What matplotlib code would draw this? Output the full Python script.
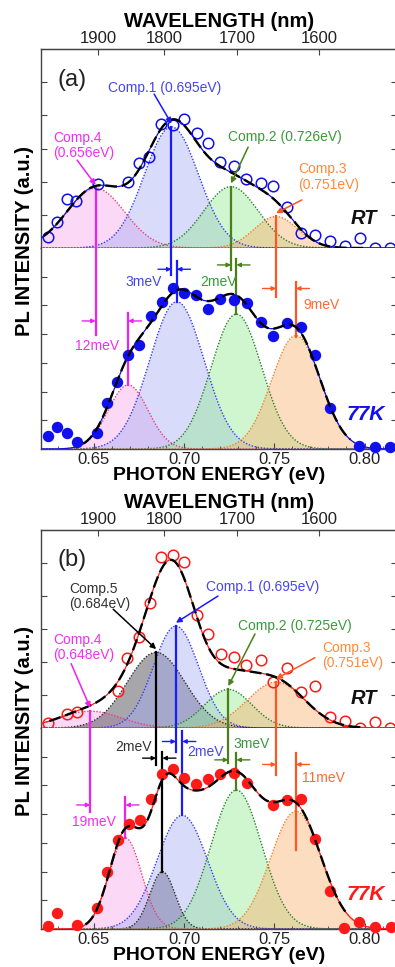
import numpy as np
import matplotlib.pyplot as plt
from matplotlib.ticker import MultipleLocator

plt.rcParams['font.family'] = ['Liberation Sans', 'DejaVu Sans']

# ---------------- panel (a): measured PL points ----------------
a_rt_e = [0.6244, 0.6298, 0.6350, 0.6401, 0.6521, 0.6688, 0.6752, 0.6808, 0.6872,
          0.6941, 0.7002, 0.7070, 0.7135, 0.7199, 0.7279, 0.7343, 0.7424, 0.7495,
          0.7572, 0.7646, 0.7726, 0.7809, 0.7892, 0.7975, 0.8058, 0.8141]
a_rt_i = [0.32, 0.79, 1.48, 1.41, 1.94, 2.00, 2.55, 2.75, 3.75,
          3.72, 3.88, 3.47, 3.17, 2.59, 2.47, 2.07, 1.97, 1.87,
          1.25, 0.44, 0.38, 0.22, 0.06, 0.31, 0.00, 0.00]
a_77_e = [0.6244, 0.6298, 0.6350, 0.6405, 0.6516, 0.6575, 0.6627, 0.6688, 0.6752,
          0.6815, 0.6876, 0.6937, 0.7002, 0.7066, 0.7135, 0.7199, 0.7279, 0.7347,
          0.7426, 0.7495, 0.7569, 0.7648, 0.7726, 0.7809, 0.7969, 0.8056, 0.8141]
a_77_i = [0.45, 0.75, 0.55, 0.26, 0.57, 1.61, 2.35, 3.28, 3.62,
          4.63, 5.13, 5.60, 5.45, 5.37, 4.87, 5.21, 5.19, 5.08,
          4.44, 3.94, 4.40, 4.24, 3.28, 1.42, 0.12, 0.08, 0.08]

# ---------------- panel (b): measured PL points ----------------
b_rt_e = [0.6244, 0.6350, 0.6409, 0.6631, 0.6683, 0.6752, 0.6811, 0.6872, 0.6937,
          0.7002, 0.7070, 0.7135, 0.7203, 0.7279, 0.7343, 0.7424, 0.7495, 0.7572,
          0.7648, 0.7726, 0.7809, 0.7892, 0.7975, 0.8058, 0.8141]
b_rt_i = [0.14, 0.42, 0.49, 1.11, 2.11, 2.77, 3.79, 5.17, 5.24,
          5.02, 3.42, 2.84, 2.24, 2.16, 1.92, 2.06, 1.39, 1.81,
          1.09, 1.27, 0.34, 0.21, 0.00, 0.19, 0.00]
b_77_e = [0.6244, 0.6298, 0.6405, 0.6516, 0.6575, 0.6631, 0.6697, 0.6756, 0.6817,
          0.6876, 0.6937, 0.7002, 0.7066, 0.7135, 0.7199, 0.7279, 0.7347, 0.7495,
          0.7572, 0.7648, 0.7726, 0.7809, 0.7884, 0.7969, 0.8056, 0.8145]
b_77_i = [0.12, 0.55, 0.14, 0.72, 1.97, 3.09, 3.67, 3.81, 4.53,
          5.41, 5.58, 5.27, 5.06, 5.21, 5.41, 5.44, 5.07, 4.31,
          4.49, 4.53, 3.15, 1.33, 0.02, 0.26, 0.08, 0.08]

# ---------------- gaussian components (peak eV, height, sigma eV) ----------------
a_comp = ['c4', 'c1', 'c2', 'c3']
a_rt_center = [0.651, 0.693, 0.726, 0.751]
a_rt_height = [1.80, 3.65, 1.85, 0.95]
a_rt_sigma = [0.016, 0.015, 0.015, 0.012]
a_77_center = [0.669, 0.696, 0.729, 0.762]
a_77_height = [2.23, 5.13, 4.70, 3.95]
a_77_sigma = [0.011, 0.015, 0.014, 0.0135]

b_comp = ['c4', 'c5', 'c1', 'c2', 'c3']
b_rt_center = [0.648, 0.6845, 0.6955, 0.7245, 0.751]
b_rt_height = [0.51, 2.29, 3.09, 1.17, 1.39]
b_rt_sigma = [0.017, 0.016, 0.0125, 0.013, 0.016]
b_77_center = [0.6675, 0.688, 0.699, 0.729, 0.762]
b_77_height = [3.17, 2.00, 3.96, 4.84, 4.10]
b_77_sigma = [0.009, 0.007, 0.014, 0.014, 0.014]

# peak-shift markers (in 77K axis units)
a_rt_line_end = [3.97, 6.06, 6.24, 5.28]
a_77_line_bot = [2.23, 5.13, 4.70, 3.91]
a_77_line_top = [4.75, 6.56, 6.61, 5.80]
a_arrow_y = [4.46, 6.26, 6.41, 5.59]
a_shift_txt = ['12meV', '3meV', '2meV', '9meV']
a_shift_x = [0.6518, 0.6773, 0.7189, 0.7764]
a_shift_y = [3.59, 5.82, 5.82, 5.02]

b_rt_line_end = [4.09, 5.71, 6.18, 5.77, 5.37]
b_77_line_bot = [3.17, 2.00, 3.96, 4.84, 2.75]
b_77_line_top = [4.61, 6.16, 6.88, 6.12, 6.12]
b_arrow_y = [4.32, 5.95, 6.53, 5.89, 5.73]
b_shift_txt = ['19meV', '2meV', '2meV', '3meV', '11meV']
b_shift_x = [0.6502, 0.6718, 0.7117, 0.7372, 0.7770]
b_shift_y = [3.73, 6.34, 6.17, 6.45, 5.26]

# component labels (text, text pos, ha, arrow tail)
a_lab_txt = ['Comp.4\n(0.656eV)', 'Comp.1 (0.695eV)', 'Comp.2 (0.726eV)', 'Comp.3\n(0.751eV)']
a_lab_x = [0.6274, 0.6890, 0.7560, 0.7630]
a_lab_y = [3.10, 4.82, 3.34, 2.14]
a_lab_ha = ['left', 'center', 'center', 'left']
a_tail_x = [0.6407, 0.6834, 0.7355, 0.7653]
a_tail_y = [2.65, 4.64, 3.04, 1.45]

b_lab_txt = ['Comp.4\n(0.648eV)', 'Comp.5\n(0.684eV)', 'Comp.1 (0.695eV)',
             'Comp.2 (0.725eV)', 'Comp.3\n(0.751eV)']
b_lab_x = [0.6274, 0.6534, 0.7438, 0.7616, 0.7764]
b_lab_y = [2.45, 3.99, 4.26, 3.09, 2.21]
b_lab_ha = ['left', 'center', 'center', 'center', 'left']
b_tail_x = [0.6374, 0.6607, 0.7188, 0.7393, 0.7725]
b_tail_y = [1.95, 3.60, 4.00, 2.85, 2.13]

# colours per component: fill, dotted edge, marker line, text
colors = {
    'c1': ('#a3abf5', '#3a3aee', '#1a1aff', '#4646f2'),
    'c2': ('#8fea8f', '#2e7d32', '#4a7f1a', '#3a9a3a'),
    'c3': ('#fbae68', '#f08030', '#ff5522', '#ff8a3c'),
    'c4': ('#f5a3ea', '#e8407a', '#ee22ee', '#f030f0'),
    'c5': ('#505058', '#303030', '#000000', '#333333'),
}

grid = np.linspace(0.60, 0.83, 600)


def gauss(c, h, s):
    return h * np.exp(-0.5 * ((grid - c) / s) ** 2)


def e2nm(x):
    x = np.asarray(x, dtype=float)
    with np.errstate(divide='ignore'):
        return 1239.84 / x


W, H = 395.0, 967.0
fig = plt.figure(figsize=(W / 100, H / 100), dpi=100)


def px_axes(left, top, right, bottom):
    return fig.add_axes([left / W, 1 - bottom / H, (right - left) / W, (bottom - top) / H])


XLIM = (0.6207, 0.818)


def style_axes(ax, ymax):
    ax.set_xlim(*XLIM)
    ax.set_ylim(0, ymax)
    ax.set_yticks(range(1, ymax))
    ax.tick_params(axis='y', left=True, right=True, direction='in', length=4,
                   width=0.8, labelleft=False, color='#444444')
    for s in ax.spines.values():
        s.set_color('#444444')
        s.set_linewidth(1.0)


def draw_spectrum(ax, comps, centers, heights, sigmas, e, i, mcolor, filled, fit_lo, fit_hi):
    total = np.zeros_like(grid)
    for k, c, h, s in zip(comps, centers, heights, sigmas):
        g = gauss(c, h, s)
        total += g
        fc, ec, lc, tc = colors[k]
        a = 0.5 if k == 'c5' else 0.42
        ax.fill_between(grid, 0, g, color=fc, alpha=a, lw=0, zorder=1)
        ax.plot(grid, g, ls=(0, (1, 1.2)), color=ec, lw=1.0, zorder=2)
    if filled:
        ax.plot(e, i, 'o', ms=7.2, color=mcolor, mec=mcolor, zorder=4, clip_on=False)
    else:
        ax.plot(e, i, 'o', ms=7.6, mfc='none', mec=mcolor, mew=1.1, zorder=4, clip_on=False)
    ax.plot(grid, total, color=mcolor, lw=0.9, zorder=5)
    m = (grid >= fit_lo) & (grid <= fit_hi)
    ax.plot(grid[m], total[m], color='black', lw=1.7, ls=(0, (5, 2)), zorder=6)


def draw_panel(ax_rt, ax_lt, tag, mcolor, comps,
               rt_c, rt_h, rt_s, lt_c, lt_h, lt_s,
               rt_e, rt_i, lt_e, lt_i,
               rt_end, lt_bot, lt_top, arr_y, sh_txt, sh_x, sh_y,
               lab_txt, lab_x, lab_y, lab_ha, tail_x, tail_y, fit_ranges):
    style_axes(ax_rt, 6)
    style_axes(ax_lt, 7)
    ax_rt.spines['bottom'].set_color('black')
    ax_lt.spines['top'].set_visible(False)
    ax_rt.tick_params(axis='x', bottom=False, labelbottom=False)

    draw_spectrum(ax_rt, comps, rt_c, rt_h, rt_s, rt_e, rt_i, mcolor, False, *fit_ranges[0])
    draw_spectrum(ax_lt, comps, lt_c, lt_h, lt_s, lt_e, lt_i, mcolor, True, *fit_ranges[1])

    for n, k in enumerate(comps):
        fc, ec, lc, tc = colors[k]
        # RT peak marker, continued down into the 77K frame
        ax_rt.plot([rt_c[n], rt_c[n]], [0, rt_h[n]], color=lc, lw=1.6, zorder=3)
        ax_lt.plot([rt_c[n], rt_c[n]], [rt_end[n], 7], color=lc, lw=1.6, zorder=3)
        ax_lt.plot([lt_c[n], lt_c[n]], [lt_bot[n], lt_top[n]], color=lc, lw=1.6, zorder=3)
        ap = dict(arrowstyle='-|>', color=lc, lw=1.0, mutation_scale=6, shrinkA=0, shrinkB=0)
        ax_lt.annotate('', xy=(rt_c[n], arr_y[n]), xytext=(rt_c[n] - 0.0075, arr_y[n]),
                       arrowprops=ap, zorder=7)
        ax_lt.annotate('', xy=(lt_c[n], arr_y[n]), xytext=(lt_c[n] + 0.0075, arr_y[n]),
                       arrowprops=ap, zorder=7)
        shc = '#ff6a30' if k == 'c3' else tc
        ax_lt.text(sh_x[n], sh_y[n], sh_txt[n], color=shc, fontsize=10,
                   ha='center', va='center', zorder=8)
        # component label with arrow to the RT peak
        ax_rt.text(lab_x[n], lab_y[n], lab_txt[n], color=tc, fontsize=10, ha=lab_ha[n],
                   va='center', linespacing=1.1, multialignment='left', zorder=8)
        ax_rt.annotate('', xy=(rt_c[n], rt_h[n] + 0.1), xytext=(tail_x[n], tail_y[n]),
                       arrowprops=dict(arrowstyle='-|>', color=lc, lw=1.1,
                                       mutation_scale=8, shrinkA=0, shrinkB=0), zorder=8)

    ax_rt.text(0.638, 5.08, tag, fontsize=17, ha='center', va='center', color='#222222')
    ax_rt.text(0.7995, 0.9, 'RT', fontsize=14.5, fontweight='bold', fontstyle='italic',
               ha='center', va='center', color='#111111')
    ax_lt.text(0.8005, 1.2, '77K', fontsize=15, fontweight='bold', fontstyle='italic',
               ha='center', va='center', color=mcolor)

    sec = ax_rt.secondary_xaxis('top', functions=(e2nm, e2nm))
    sec.set_xticks([1900, 1800, 1700, 1600])
    sec.tick_params(direction='in', length=4, width=0.8, labelsize=12, pad=2,
                    labelcolor='#222222', color='#444444')
    sec.set_xlabel('WAVELENGTH (nm)', fontsize=14.5, fontweight='bold', labelpad=3)

    ax_lt.set_xticks([0.65, 0.70, 0.75, 0.80])
    ax_lt.set_xticklabels(['0.65', '0.70', '0.75', '0.80'])
    ax_lt.xaxis.set_minor_locator(MultipleLocator(0.01))
    ax_lt.tick_params(axis='x', which='both', direction='in', labelsize=12, pad=2,
                      labelcolor='#222222', color='#444444')
    ax_lt.tick_params(axis='x', which='major', length=4)
    ax_lt.tick_params(axis='x', which='minor', length=2.5)
    ax_lt.set_xlabel('PHOTON ENERGY (eV)', fontsize=14, fontweight='bold', labelpad=0)


ax_a_rt = px_axes(41, 49, 397, 248)
ax_a_lt = px_axes(41, 248, 397, 449)
ax_b_rt = px_axes(41, 530, 397, 728)
ax_b_lt = px_axes(41, 728, 397, 929)

draw_panel(ax_a_rt, ax_a_lt, '(a)', '#1010ee', a_comp,
           a_rt_center, a_rt_height, a_rt_sigma, a_77_center, a_77_height, a_77_sigma,
           a_rt_e, a_rt_i, a_77_e, a_77_i,
           a_rt_line_end, a_77_line_bot, a_77_line_top, a_arrow_y,
           a_shift_txt, a_shift_x, a_shift_y,
           a_lab_txt, a_lab_x, a_lab_y, a_lab_ha, a_tail_x, a_tail_y,
           [(0.622, 0.802), (0.644, 0.792)])

draw_panel(ax_b_rt, ax_b_lt, '(b)', '#ff1a1a', b_comp,
           b_rt_center, b_rt_height, b_rt_sigma, b_77_center, b_77_height, b_77_sigma,
           b_rt_e, b_rt_i, b_77_e, b_77_i,
           b_rt_line_end, b_77_line_bot, b_77_line_top, b_arrow_y,
           b_shift_txt, b_shift_x, b_shift_y,
           b_lab_txt, b_lab_x, b_lab_y, b_lab_ha, b_tail_x, b_tail_y,
           [(0.625, 0.800), (0.645, 0.790)])

for yc in (241.5, 721.5):
    fig.text(25 / W, 1 - yc / H, 'PL INTENSITY (a.u.)', rotation=90, ha='center',
             va='center', fontsize=14.5, fontweight='bold')

fig.savefig('out.png', dpi=100)
